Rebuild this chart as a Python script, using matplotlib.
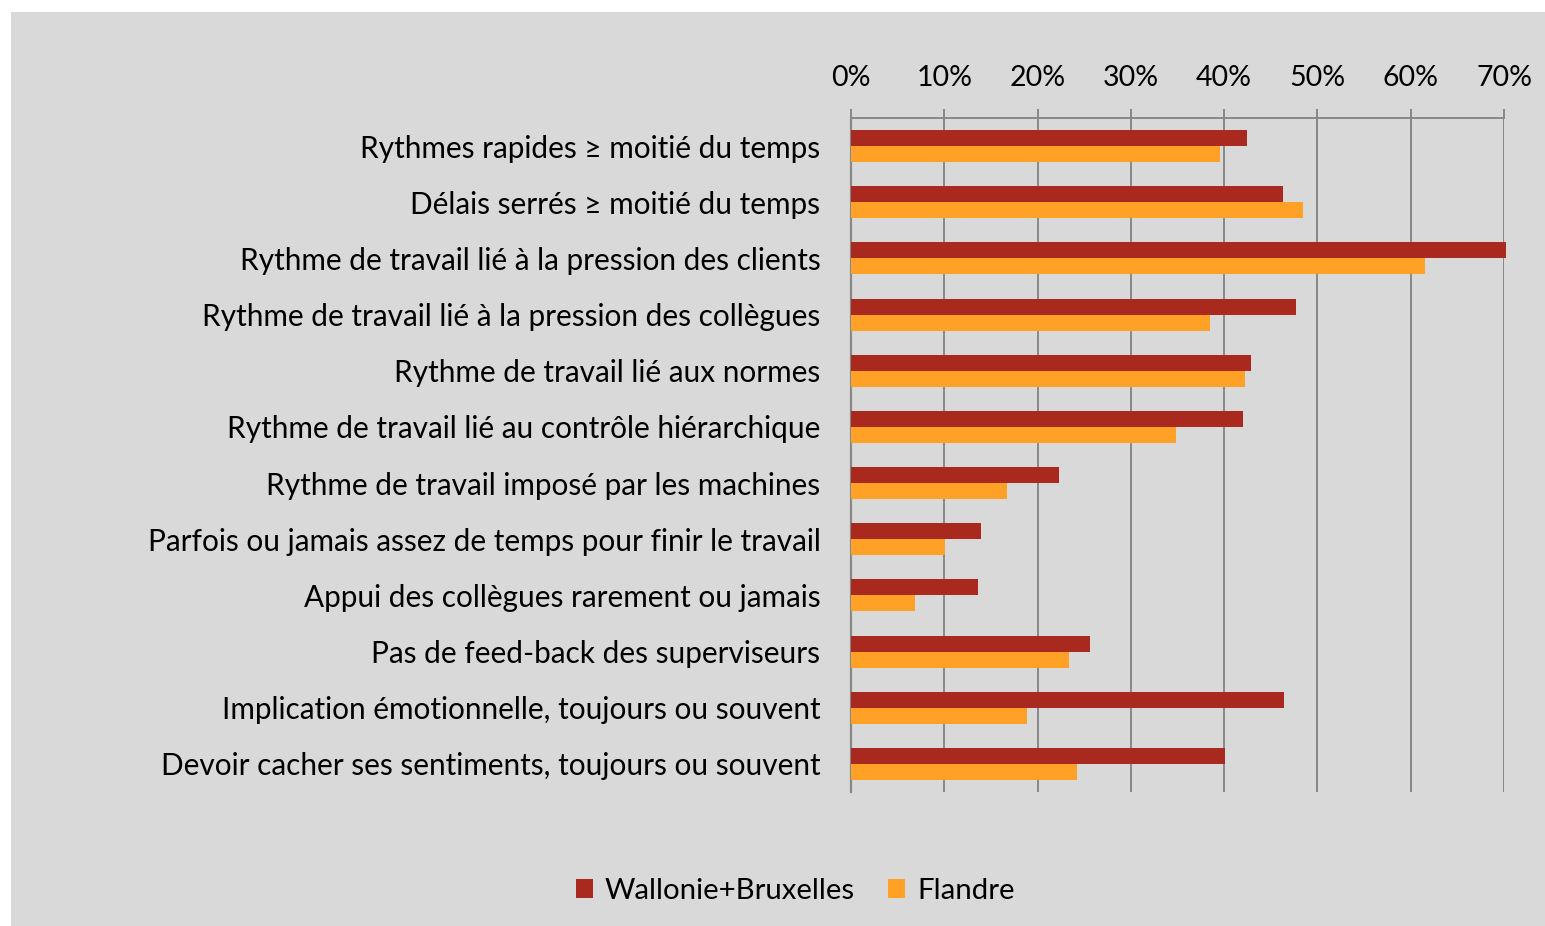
import numpy as np
import matplotlib.pyplot as plt
from matplotlib.patches import Rectangle
from matplotlib.ticker import PercentFormatter

categories = [
    "Rythmes rapides ≥ moitié du temps",
    "Délais serrés ≥ moitié du temps",
    "Rythme de travail lié à la pression des clients",
    "Rythme de travail lié à la pression des collègues",
    "Rythme de travail lié aux normes",
    "Rythme de travail lié au contrôle hiérarchique",
    "Rythme de travail imposé par les machines",
    "Parfois ou jamais assez de temps pour finir le travail",
    "Appui des collègues rarement ou jamais",
    "Pas de feed-back des superviseurs",
    "Implication émotionnelle, toujours ou souvent",
    "Devoir cacher ses sentiments, toujours ou souvent",
]
wallonie = [42.5, 46.3, 70.2, 47.7, 42.9, 42.0, 22.3, 13.9, 13.6, 25.6, 46.4, 40.1]
flandre = [39.6, 48.5, 61.5, 38.5, 42.2, 34.8, 16.7, 10.1, 6.9, 23.4, 18.9, 24.2]
series_names = ["Wallonie+Bruxelles", "Flandre"]
colors = ["#a9291e", "#ffa127"]

plt.rcParams['font.family'] = ['Lato', 'DejaVu Sans']
bg = "#d9d9d9"
W, H = 1545, 926
fig = plt.figure(figsize=(W / 100, H / 100), dpi=100, facecolor="white")
fig.patches.append(Rectangle((11 / W, 0), 1, 1 - 12 / H, transform=fig.transFigure,
                             facecolor=bg, edgecolor="none", zorder=-10))

ax = fig.add_axes([851 / W, 1 - 792 / H, (1504 - 851) / W, (792 - 118) / H])
ax.set_facecolor(bg)

y = np.arange(len(categories))
h = 0.285
ax.barh(y - h / 2, wallonie, height=h, color=colors[0], label=series_names[0],
        zorder=3, clip_on=False)
ax.barh(y + h / 2, flandre, height=h, color=colors[1], label=series_names[1],
        zorder=3, clip_on=False)

ax.set_ylim(len(categories) - 0.5, -0.5)
ax.set_xlim(0, 70)
ax.set_xticks(np.arange(0, 71, 10))
ax.xaxis.set_major_formatter(PercentFormatter(decimals=0))
ax.xaxis.tick_top()
ax.tick_params(axis='x', direction='out', length=6.5, width=1.4, color="#888888",
               labelsize=20.5, pad=13)
ax.set_yticks(y)
ax.set_yticklabels(categories, fontsize=21.4)
ax.tick_params(axis='y', length=0, pad=22)
ax.grid(axis='x', color="#888888", linewidth=1.4, zorder=1)

for s in ['right', 'bottom']:
    ax.spines[s].set_visible(False)
ax.spines['top'].set_color("#888888")
ax.spines['top'].set_linewidth(1.4)
ax.spines['left'].set_color("#888888")
ax.spines['left'].set_linewidth(1.6)

fig.legend(loc='center', bbox_to_anchor=(795 / W, 1 - 891 / H), ncol=2, frameon=False,
           fontsize=21.2, handlelength=0.6, handleheight=0.6, handletextpad=0.4,
           columnspacing=1.1)

fig.savefig("out.png", dpi=100, facecolor="white")
